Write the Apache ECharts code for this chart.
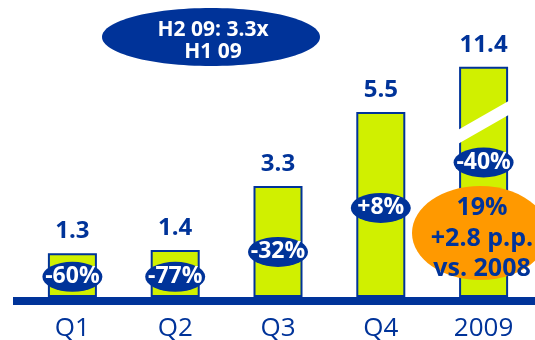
<!DOCTYPE html>
<html>
<head>
<meta charset="utf-8">
<script src="https://cdn.jsdelivr.net/npm/echarts@6/dist/echarts.min.js"></script>
<style>
  html, body { margin: 0; padding: 0; background: #fff; }
  #main { width: 535px; height: 340px; }
</style>
</head>
<body>
<div id="main"></div>
<script>
var categories = ['Q1', 'Q2', 'Q3', 'Q4', '2009'];
var values = [1.3, 1.4, 3.3, 5.5, 11.4];
var changes = ['-60%', '-77%', '-32%', '+8%', '-40%'];
var changeAt = [0.6, 0.6, 1.34, 2.65, 4.0];   // height of the blue badge on each bar
var brokenAt = 6.85;                           // 2009 bar is cut, only drawn up to here
var calloutTop = ['H2 09: 3.3x', 'H1 09'];
var calloutMargin = ['19%', '+2.8 p.p.', 'vs. 2008'];

var blue = '#003399';
var green = '#d0f000';
var orange = '#ff9900';
var font = '"Open Sans"';

var chart = echarts.init(document.getElementById('main'));

chart.setOption({
    animation: false,
    grid: { left: 21, right: 0, top: 28, bottom: 43, containLabel: false, outerBoundsMode: 'none' },
    xAxis: {
        type: 'category',
        data: categories,
        axisLine: { show: false },
        axisTick: { show: false },
        axisLabel: { color: blue, fontSize: 26, fontFamily: font, margin: 19 }
    },
    yAxis: { type: 'value', min: 0, max: 8, show: false, splitLine: { show: false } },
    series: [
        {
            type: 'bar',
            barWidth: 49,
            data: values.map(function (v) { return Math.min(v, brokenAt) }),
            itemStyle: { color: green, borderColor: blue, borderWidth: 2 },
            label: {
                show: true,
                position: 'top',
                distance: 10,
                formatter: function (p) { return values[p.dataIndex].toFixed(1) },
                color: blue, fontSize: 24, fontWeight: 'bold', fontFamily: font
            }
        },
        {
            type: 'scatter',
            symbol: 'circle',
            symbolSize: [60, 30],
            z: 3,
            data: changeAt.map(function (y, i) { return [i, y] }),
            itemStyle: { color: blue, opacity: 1 },
            label: {
                show: true,
                position: 'inside',
                formatter: function (p) { return changes[p.dataIndex] },
                color: '#fff', fontSize: 23, fontWeight: 'bold', fontFamily: font
            }
        }
    ]
})

// break mark on the 2009 bar, the baseline and the two callouts
var c = chart.convertToPixel({ xAxisIndex: 0, yAxisIndex: 0 }, [4, 5.2]);
var base = chart.convertToPixel({ xAxisIndex: 0, yAxisIndex: 0 }, [0, 0]);
var graphics = [
    {
        type: 'polygon', z: 10,
        shape: { points: [[c[0] - 28, c[1] + 9], [c[0] + 28, c[1] - 23], [c[0] + 28, c[1] - 9], [c[0] - 28, c[1] + 23]] },
        style: { fill: '#fff' }
    },
    { type: 'rect', z: 10, shape: { x: 13, y: base[1], width: 535, height: 8 }, style: { fill: blue } },
    { type: 'ellipse', z: 10, shape: { cx: 211, cy: 37, rx: 109, ry: 29 }, style: { fill: blue } },
    { type: 'ellipse', z: 10, shape: { cx: 480, cy: 233, rx: 68, ry: 47 }, style: { fill: orange } }
];
calloutTop.forEach(function (t, i) {
    graphics.push({
        type: 'text', z: 11,
        style: { text: t, x: 213, y: 30 + i * 22, fill: '#fff', font: 'bold 21px ' + font, align: 'center', verticalAlign: 'middle' }
    })
})
calloutMargin.forEach(function (t, i) {
    graphics.push({
        type: 'text', z: 11,
        style: { text: t, x: 482, y: 208 + i * 30.5, fill: blue, font: 'bold 25px ' + font, align: 'center', verticalAlign: 'middle' }
    })
})
chart.setOption({ graphic: graphics })
</script>
</body>
</html>
